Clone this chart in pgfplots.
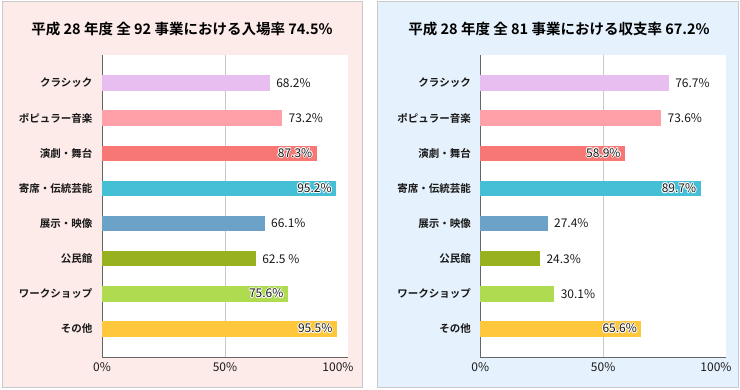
\documentclass[border=0pt]{standalone}
\usepackage{fontspec}
\setmainfont{Noto Sans CJK JP}[BoldFont={Noto Sans CJK JP Bold}]
\usepackage{pgfplots}
\pgfplotsset{compat=1.18}
\usepackage[copies]{contour}
\contourlength{0.9pt}
\contournumber{8}
\definecolor{bgpink}{HTML}{FDEBE9}
\definecolor{bgblue}{HTML}{E5F1FC}
\definecolor{bord}{HTML}{C9C9C9}
\definecolor{cA}{HTML}{E8BDF0}
\definecolor{cB}{HTML}{FF9FA8}
\definecolor{cC}{HTML}{F77775}
\definecolor{cD}{HTML}{45BFD6}
\definecolor{cE}{HTML}{6CA1C8}
\definecolor{cF}{HTML}{97B21E}
\definecolor{cG}{HTML}{AEDB50}
\definecolor{cH}{HTML}{FFC83C}
\definecolor{axc}{HTML}{666666}
\definecolor{gridc}{HTML}{C8C8C8}
\pgfplotsset{
  panel/.style={
    xbar, scale only axis, width=246pt, height=302pt,
    anchor=south west,
    xmin=0, xmax=100, ymin=-0.8, ymax=7.8,
    bar width=15.5pt, bar shift=0pt,
    axis background/.style={fill=white},
    axis x line*=bottom, axis y line*=left,
    axis line style={draw=axc, line width=0.8pt, -},
    xtick={0,50,100},
    xticklabels={0\%,50\%,100\%\hspace*{20pt}},
    extra x ticks={50}, extra x tick labels={},
    extra x tick style={grid=major, major grid style={draw=gridc, line width=0.6pt}},
    major tick length=0pt,
    ytick={0,...,7},
    yticklabels={その他,ワークショップ,公民館,展示・映像,寄席・伝統芸能,演劇・舞台,ポピュラー音楽,クラシック},
    yticklabel style={font=\bfseries\fontsize{10.5}{12}\selectfont, text=black!90, xshift=-6pt},
    xticklabel style={font=\fontsize{12}{14}\selectfont, text=black!90, yshift=-2pt},
    clip=false,
  },
  outl/.style={nodes near coords={#1},
    every node near coord/.append style={anchor=west, xshift=3pt, font=\fontsize{12}{14}\selectfont, text=black!90}},
  inl/.style={nodes near coords={\contour{white}{#1}},
    every node near coord/.append style={anchor=east, xshift=-1pt, font=\fontsize{12}{14}\selectfont, text=black!90}},
}
\begin{document}
\begin{tikzpicture}[x=1pt,y=1pt]
\useasboundingbox (0,0) rectangle (740,390);
\draw[bord, fill=bgpink, line width=1pt] (2,2) rectangle (362,388);
\draw[bord, fill=bgblue, line width=1pt] (377.5,2) rectangle (738,388);
\node[font=\bfseries\fontsize{14.5}{17}\selectfont] at (182,361) {平成 28 年度 全 92 事業における入場率 74.5\%};
\node[font=\bfseries\fontsize{14.5}{17}\selectfont] at (559,361) {平成 28 年度 全 81 事業における収支率 67.2\%};
\begin{axis}[panel, at={(102pt,33pt)}]
\addplot[fill=cA, draw=none, outl={68.2\%}] coordinates {(68.2,7)};
\addplot[fill=cB, draw=none, outl={73.2\%}] coordinates {(73.2,6)};
\addplot[fill=cC, draw=none, inl={87.3\%}] coordinates {(87.3,5)};
\addplot[fill=cD, draw=none, inl={95.2\%}] coordinates {(95.2,4)};
\addplot[fill=cE, draw=none, outl={66.1\%}] coordinates {(66.1,3)};
\addplot[fill=cF, draw=none, outl={62.5 \%}] coordinates {(62.5,2)};
\addplot[fill=cG, draw=none, inl={75.6\%}] coordinates {(75.6,1)};
\addplot[fill=cH, draw=none, inl={95.5\%}] coordinates {(95.5,0)};
\end{axis}
\begin{axis}[panel, at={(480.3pt,33pt)}, width=245.7pt]
\addplot[fill=cA, draw=none, outl={76.7\%}] coordinates {(76.7,7)};
\addplot[fill=cB, draw=none, outl={73.6\%}] coordinates {(73.6,6)};
\addplot[fill=cC, draw=none, inl={58.9\%}] coordinates {(58.9,5)};
\addplot[fill=cD, draw=none, inl={89.7\%}] coordinates {(89.7,4)};
\addplot[fill=cE, draw=none, outl={27.4\%}] coordinates {(27.4,3)};
\addplot[fill=cF, draw=none, outl={24.3\%}] coordinates {(24.3,2)};
\addplot[fill=cG, draw=none, outl={30.1\%}] coordinates {(30.1,1)};
\addplot[fill=cH, draw=none, inl={65.6\%}] coordinates {(65.6,0)};
\end{axis}
\end{tikzpicture}
\end{document}
